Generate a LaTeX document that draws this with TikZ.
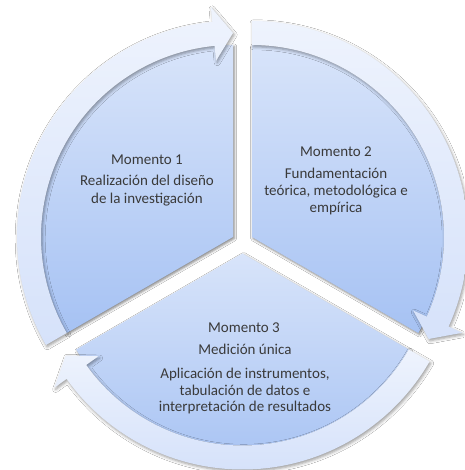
\documentclass[tikz,border=0pt]{standalone}
\usepackage{fontspec}
\setmainfont{Carlito}
\usetikzlibrary{shadows.blur}
\definecolor{sliceTop}{HTML}{D8E4FA}
\definecolor{sliceBot}{HTML}{A6C2F3}
\definecolor{arcTop}{HTML}{EEF3FD}
\definecolor{arcBot}{HTML}{D6E2FA}
\definecolor{txt}{HTML}{3A3A3A}
\begin{document}
\begin{tikzpicture}[x=1pt,y=1pt,
  slice/.style={top color=sliceTop, bottom color=sliceBot,
    blur shadow={shadow xshift=1.2pt, shadow yshift=-1.5pt, shadow blur radius=2.5pt, shadow opacity=50}},
  ringarrow/.style={top color=arcTop, bottom color=arcBot,
    blur shadow={shadow xshift=1.2pt, shadow yshift=-1.8pt, shadow blur radius=3pt, shadow opacity=40}},
  lbl/.style={font=\fontsize{15}{17}\selectfont, text=txt, anchor=base, inner sep=0pt}]
\useasboundingbox (0,0) rectangle (464,470);
\fill[white] (0,0) rectangle (464,470);
\coordinate (c1) at (233,233);
\coordinate (c2) at (252,233);
\coordinate (c3) at (242.5,216.5);
% pie slices
\shade[slice] (c1) -- ++(90:192) arc[start angle=90,end angle=210,radius=192] -- cycle;
\shade[slice] (c2) -- ++(-30:192) arc[start angle=-30,end angle=90,radius=192] -- cycle;
\shade[slice] (c3) -- ++(210:192) arc[start angle=210,end angle=330,radius=192] -- cycle;
% circular arrows
\begin{scope}[shift={(c1)}]
\shade[ringarrow] (210:216) arc[start angle=210,end angle=95.5,radius=216] -- (95.5:231) -- (90:204) -- (95.5:177) -- (95.5:192) arc[start angle=95.5,end angle=210,radius=192] -- cycle;
\end{scope}
\begin{scope}[shift={(c2)}]
\shade[ringarrow] (90:216) arc[start angle=90,end angle=-24.5,radius=216] -- (-24.5:231) -- (-30:204) -- (-24.5:177) -- (-24.5:192) arc[start angle=-24.5,end angle=90,radius=192] -- cycle;
\end{scope}
\begin{scope}[shift={(c3)}]
\shade[ringarrow] (330:216) arc[start angle=330,end angle=215.5,radius=216] -- (215.5:231) -- (210:204) -- (215.5:177) -- (215.5:192) arc[start angle=215.5,end angle=330,radius=192] -- cycle;
\end{scope}
% texts
\node[lbl] (m1) at (147,305.5) {Momento 1};
\node[lbl] (t1a) at (147,284) {Realización del diseño};
\node[lbl] (t1b) at (147,266.7) {de la investigación};
\node[lbl] (m2) at (336,313.3) {Momento 2};
\node[lbl] (t2a) at (336,291) {Fundamentación};
\node[lbl] (t2b) at (336,274) {teórica, metodológica e};
\node[lbl] (t2c) at (336,257.5) {empírica};
\node[lbl] (m3) at (244,137) {Momento 3};
\node[lbl] (t3a) at (245,115) {Medición única};
\node[lbl] (t3b) at (245,91) {Aplicación de instrumentos,};
\node[lbl] (t3c) at (245,74.5) {tabulación de datos e};
\node[lbl] (t3d) at (245,58) {interpretación de resultados};
\end{tikzpicture}
\end{document}
